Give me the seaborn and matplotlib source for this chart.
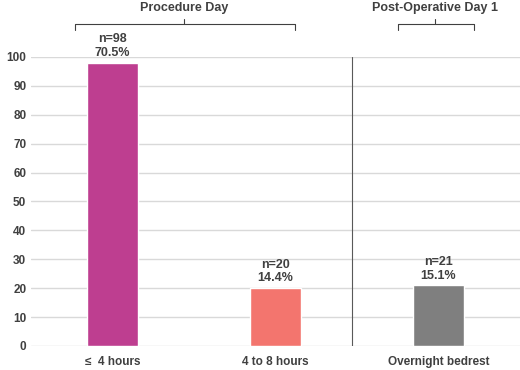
import numpy as np
import pandas as pd
import seaborn as sns
import matplotlib.pyplot as plt

# data
categories = ['≤  4 hours', '4 to 8 hours', 'Overnight bedrest']
counts = [98, 20, 21]
percents = ['70.5%', '14.4%', '15.1%']
colors = ['#BE3E90', '#F3756E', '#7F7F7F']
groups = ['Procedure Day', 'Post-Operative Day 1']

df = pd.DataFrame({'cat': categories, 'n': counts})

sns.set_style('white')
plt.rcParams['font.family'] = ['Liberation Sans', 'DejaVu Sans']

fig = plt.figure(figsize=(5.2, 3.7), dpi=100)
ax = fig.add_axes([0.06, 0.065, 0.94, 0.781])
sns.barplot(data=df, x='cat', y='n', hue='cat', palette=colors, width=0.31,
            legend=False, ax=ax, saturation=1)

ax.set_xlim(-0.5, 2.5)
ax.set_ylim(0, 100)
ax.set_yticks(range(0, 101, 10))
ax.yaxis.grid(True, color='#d9d9d9', lw=1)
ax.set_axisbelow(True)
for s in ax.spines.values():
    s.set_visible(False)
ax.set_xlabel('')
ax.set_ylabel('')
ax.tick_params(length=0, labelsize=8.5, labelcolor='#404040')
ax.tick_params(axis='x', pad=7)
for lab in ax.get_xticklabels() + ax.get_yticklabels():
    lab.set_fontweight('bold')

# bar labels
for i, (n, p) in enumerate(zip(counts, percents)):
    ax.text(i, n + 1.3, f'n={n}\n{p}', ha='center', va='bottom', fontsize=9,
            fontweight='bold', color='#404040', linespacing=1.2, clip_on=False)

# divider
ax.axvline(1.47, color='#595959', lw=0.8)

# group brackets
def bracket(x0, x1, xc, label):
    ax.plot([x0, x0, x1, x1], [109.3, 111.4, 111.4, 109.3], color='#404040',
            lw=0.8, clip_on=False)
    ax.plot([xc, xc], [111.4, 113.2], color='#404040', lw=0.8, clip_on=False)
    ax.text(xc, 117.0, label, ha='center', va='center', fontsize=9,
            fontweight='bold', color='#404040', clip_on=False)

bracket(-0.233, 1.117, 0.44, groups[0])
bracket(1.749, 2.215, 1.98, groups[1])

plt.savefig('out.png', dpi=100)
